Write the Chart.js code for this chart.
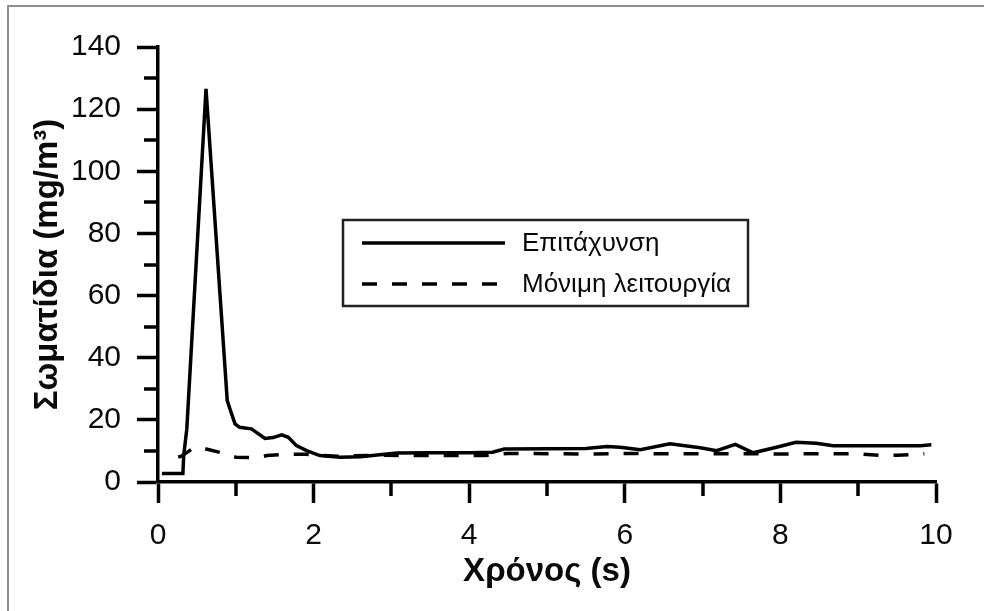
<!DOCTYPE html>
<html>
<head>
<meta charset="utf-8">
<script src="https://cdn.jsdelivr.net/npm/chart.js@4.4.1/dist/chart.umd.min.js"></script>
<style>
  html, body { margin: 0; padding: 0; background: #ffffff; }
  #wrap { width: 984px; height: 611px; }
</style>
</head>
<body>
<div id="wrap"><canvas id="c" width="984" height="611"></canvas></div>
<script>
// ---- data ----
const seriesLabels = ['Επιτάχυνση', 'Μόνιμη λειτουργία'];
const xTitle = 'Χρόνος (s)';
const yTitle = 'Σωματίδια (mg/m³)';

const accelTime = [0.05, 0.32, 0.33, 0.37, 0.617, 0.89, 0.925, 0.99, 1.05, 1.2, 1.375, 1.48, 1.59, 1.675, 1.78, 1.91, 2.08, 2.34, 2.6, 2.85, 3.07, 3.5, 4.0, 4.3, 4.45, 5.0, 5.5, 5.77, 5.94, 6.2, 6.58, 6.97, 7.18, 7.42, 7.65, 7.95, 8.2, 8.46, 8.68, 9.0, 9.5, 9.8, 9.94];
const accelValue = [2.7, 2.7, 8.5, 17, 126.5, 26.2, 23.5, 18.7, 17.6, 17.1, 14, 14.3, 15.2, 14.4, 11.7, 10.1, 8.5, 8, 8.1, 8.8, 9.3, 9.4, 9.4, 9.6, 10.6, 10.7, 10.8, 11.4, 11.2, 10.4, 12.3, 11, 10.1, 12.1, 9.4, 11.2, 12.8, 12.5, 11.7, 11.7, 11.7, 11.7, 12];

const steadyTime = [0.26, 0.3, 0.47, 0.62, 0.88, 1.0, 1.27, 1.4, 1.65, 1.9, 2.3, 2.8, 3.3, 3.8, 4.2, 4.5, 5.0, 5.5, 6.0, 6.5, 7.0, 7.5, 8.0, 8.5, 9.0, 9.3, 9.5, 9.85];
const steadyValue = [8, 8.3, 11.2, 10.6, 9, 8, 7.8, 8.5, 9, 8.9, 8.3, 8.6, 8.5, 8.5, 8.5, 9.2, 9.1, 9, 9.2, 9.1, 9.1, 9.1, 9, 9.1, 9.1, 8.5, 8.6, 9.1];

const xMin = 0, xMax = 10, xStep = 1, xLabelEvery = 2;
const yMin = 0, yMax = 140, yStep = 10, yLabelEvery = 20;

// ---- helpers ----
const toPoints = (xs, ys) => xs.map((x, i) => ({ x: x, y: ys[i] }));
const isMajor = (v, every) => Math.abs(v / every - Math.round(v / every)) < 1e-6;

// outer frame (top and left edges visible in reference)
const framePlugin = {
  id: 'frame',
  beforeDraw(chart) {
    const ctx = chart.ctx;
    ctx.save();
    ctx.strokeStyle = '#8f8f8f';
    ctx.lineWidth = 2;
    ctx.beginPath();
    ctx.moveTo(984, 6);
    ctx.lineTo(8, 6);
    ctx.lineTo(8, 611);
    ctx.stroke();
    ctx.restore();
  }
};

// short minor ticks drawn through the chart's own scales
const minorTicksPlugin = {
  id: 'minorTicks',
  afterDraw(chart) {
    const ctx = chart.ctx;
    const xs = chart.scales.x, ys = chart.scales.y;
    ctx.save();
    ctx.strokeStyle = '#000';
    ctx.lineWidth = 3.5;
    ctx.beginPath();
    for (let v = xMin; v <= xMax + 1e-9; v += xStep) {
      if (isMajor(v, xLabelEvery)) continue;
      const px = Math.round(xs.getPixelForValue(v));
      ctx.moveTo(px, xs.top);
      ctx.lineTo(px, xs.top + 14);
    }
    for (let v = yMin; v <= yMax + 1e-9; v += yStep) {
      if (isMajor(v, yLabelEvery)) continue;
      const py = Math.round(ys.getPixelForValue(v));
      ctx.moveTo(ys.right, py);
      ctx.lineTo(ys.right - 14, py);
    }
    ctx.stroke();
    ctx.restore();
  }
};

// boxed legend inside the plot
const boxLegendPlugin = {
  id: 'boxLegend',
  afterDraw(chart) {
    const ctx = chart.ctx;
    const box = { x: 343, y: 220, w: 405, h: 86 };
    ctx.save();
    ctx.strokeStyle = '#222';
    ctx.lineWidth = 2.5;
    ctx.strokeRect(box.x, box.y, box.w, box.h);
    const rows = [243, 284];
    chart.data.datasets.forEach((ds, i) => {
      const y = rows[i];
      ctx.strokeStyle = ds.borderColor;
      ctx.lineWidth = ds.borderWidth;
      ctx.setLineDash(ds.borderDash || []);
      ctx.beginPath();
      ctx.moveTo(362, y);
      ctx.lineTo(505, y);
      ctx.stroke();
      ctx.setLineDash([]);
      ctx.fillStyle = '#0a0a0a';
      ctx.font = '26px "Liberation Sans", Arial, sans-serif';
      ctx.textAlign = 'left';
      ctx.textBaseline = 'middle';
      ctx.fillText(ds.label, 522, y + 1);
    });
    ctx.restore();
  }
};

const tickFont = { family: '"Liberation Sans", Arial, sans-serif', size: 30 };
const titleFont = { family: '"Liberation Sans", Arial, sans-serif', size: 33, weight: 'bold' };

new Chart(document.getElementById('c'), {
  type: 'scatter',
  data: {
    datasets: [
      {
        label: seriesLabels[0],
        data: toPoints(accelTime, accelValue),
        showLine: true,
        borderColor: '#000',
        borderWidth: 3.5,
        pointRadius: 0,
        tension: 0,
        fill: false
      },
      {
        label: seriesLabels[1],
        data: toPoints(steadyTime, steadyValue),
        showLine: true,
        borderColor: '#000',
        borderWidth: 3.5,
        borderDash: [15, 15],
        pointRadius: 0,
        tension: 0,
        fill: false
      }
    ]
  },
  options: {
    responsive: false,
    animation: false,
    devicePixelRatio: 1,
    layout: { padding: { left: 0, right: 48, top: 47, bottom: 0 } },
    plugins: {
      legend: { display: false },
      tooltip: { enabled: false }
    },
    scales: {
      x: {
        type: 'linear',
        min: xMin, max: xMax,
        afterFit(scale) { scale.height = 129; },
        afterBuildTicks(scale) {
          const t = [];
          for (let v = xMin; v <= xMax + 1e-9; v += xStep) t.push({ value: v });
          scale.ticks = t;
        },
        ticks: {
          autoSkip: false,
          maxRotation: 0,
          padding: 15,
          color: '#0a0a0a',
          font: tickFont,
          callback: (v) => isMajor(v, xLabelEvery) ? String(v) : ''
        },
        grid: {
          drawOnChartArea: false,
          drawTicks: true,
          tickLength: 21,
          tickWidth: 3.5,
          tickColor: (c) => (c.tick && isMajor(c.tick.value, xLabelEvery)) ? '#000' : 'rgba(0,0,0,0)'
        },
        border: { display: true, color: '#000', width: 3.5 },
        title: { display: true, text: xTitle, color: '#0a0a0a', font: titleFont, padding: { top: 0, bottom: 19 } }
      },
      y: {
        type: 'linear',
        min: yMin, max: yMax,
        afterFit(scale) { scale.width = 158; },
        afterBuildTicks(scale) {
          const t = [];
          for (let v = yMin; v <= yMax + 1e-9; v += yStep) t.push({ value: v });
          scale.ticks = t;
        },
        ticks: {
          autoSkip: false,
          padding: 16,
          color: '#0a0a0a',
          font: tickFont,
          callback: (v) => isMajor(v, yLabelEvery) ? String(v) : ''
        },
        grid: {
          drawOnChartArea: false,
          drawTicks: true,
          tickLength: 21,
          tickWidth: 3.5,
          tickColor: (c) => (c.tick && isMajor(c.tick.value, yLabelEvery)) ? '#000' : 'rgba(0,0,0,0)'
        },
        border: { display: true, color: '#000', width: 3.5 },
        title: { display: true, text: yTitle, color: '#0a0a0a', font: titleFont, padding: { top: 28, bottom: 0 } }
      }
    }
  },
  plugins: [framePlugin, minorTicksPlugin, boxLegendPlugin]
});
</script>
</body>
</html>
